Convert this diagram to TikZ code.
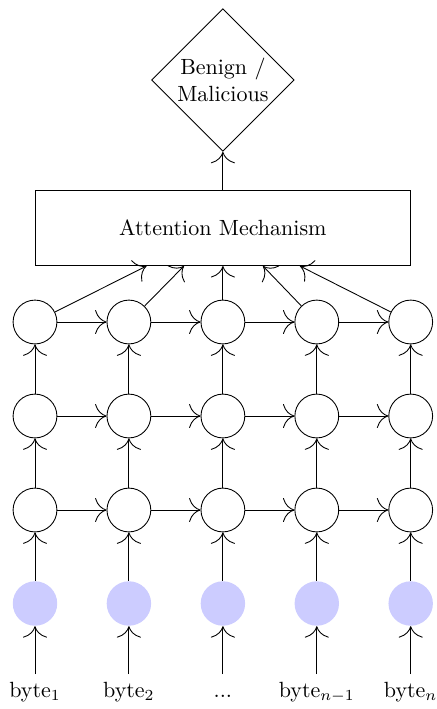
\documentclass[tikz,border=0pt]{standalone}
\usetikzlibrary{shapes.geometric,arrows.meta}
\begin{document}
\begin{tikzpicture}[x=0.4545pt,y=-0.4545pt,
  hid/.style={circle,draw,minimum size=0.7cm,inner sep=0pt},
  inp/.style={circle,fill=blue!20,minimum size=0.71cm,inner sep=0pt},
  attbox/.style={draw,minimum width=6cm,minimum height=1.2cm},
  outdia/.style={diamond,draw,align=center,inner sep=0pt,minimum size=2.28cm},
  lbl/.style={anchor=north,text height=6.94pt},
  conn/.style={-{To[scale=2.1]}}]
\useasboundingbox (0,0) rectangle (437,709);
% columns
\foreach \i/\x in {1/35,2/128.9,3/222.9,4/316.8,5/410.7}{
  \node[inp] (in\i) at (\x,603.5) {};
  \node[hid] (ha\i) at (\x,510) {};
  \node[hid] (hb\i) at (\x,416) {};
  \node[hid] (hc\i) at (\x,322) {};
}
\node[lbl] (l1) at (35,674) {byte$_1$};
\node[lbl] (l2) at (128.9,674) {byte$_2$};
\node[lbl] (l3) at (222.9,674) {...};
\node[lbl] (l4) at (316.8,674) {byte$_{n-1}$};
\node[lbl] (l5) at (410.7,674) {byte$_n$};
\node[attbox] (att) at (222.9,228) {Attention Mechanism};
\node[outdia] (out) at (222.9,80) {Benign /\\Malicious};
\draw[conn] (att) -- (out);
\foreach \i in {1,...,5}{
  \draw[conn] (l\i) -- (in\i);
  \draw[conn] (in\i) -- (ha\i);
  \draw[conn] (ha\i) -- (hb\i);
  \draw[conn] (hb\i) -- (hc\i);
}
\foreach \i/\j in {1/2,2/3,3/4,4/5}{
  \draw[conn] (ha\i) -- (ha\j);
  \draw[conn] (hb\i) -- (hb\j);
  \draw[conn] (hc\i) -- (hc\j);
}
\coordinate (t1) at ([xshift=-34.7pt]att.south);
\coordinate (t2) at ([xshift=-17.7pt]att.south);
\coordinate (t4) at ([xshift=18.2pt]att.south);
\coordinate (t5) at ([xshift=35pt]att.south);
\draw[conn] (hc1) -- (t1);
\draw[conn] (hc2) -- (t2);
\draw[conn] (hc3) -- (att);
\draw[conn] (hc4) -- (t4);
\draw[conn] (hc5) -- (t5);
\end{tikzpicture}
\end{document}
